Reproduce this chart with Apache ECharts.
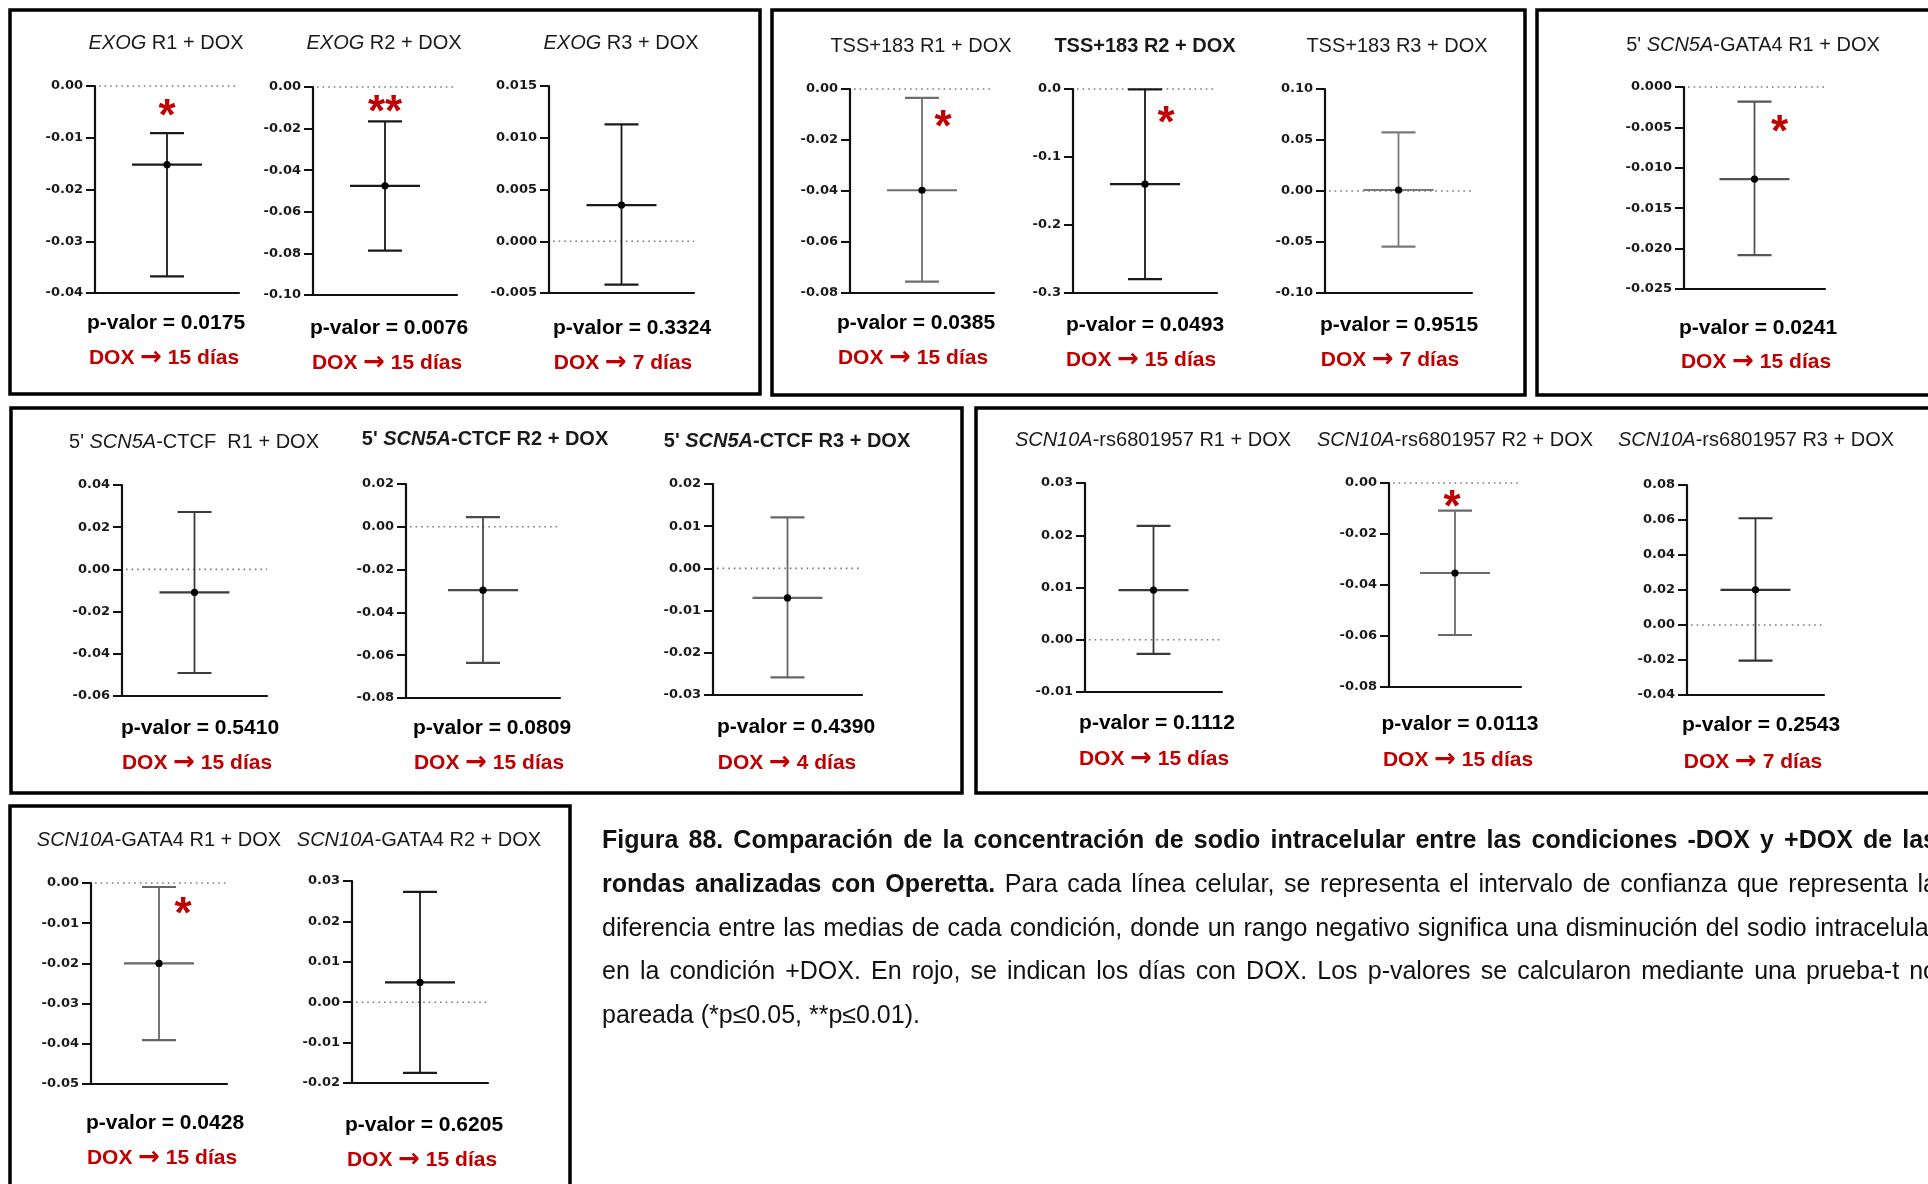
<!DOCTYPE html>
<html>
<head>
<meta charset="utf-8">
<title>Figura 88 – Concentración de sodio intracelular (-DOX vs +DOX)</title>
<script src="https://cdn.jsdelivr.net/npm/echarts@6/dist/echarts.min.js"></script>
<style>
  html, body { margin: 0; padding: 0; background: #fff; overflow: hidden; }
  #wrap { position: relative; width: 1928px; height: 1184px; overflow: hidden; }
  #chart { position: absolute; left: 0; top: 0; width: 1928px; height: 1184px; }
  #caption {
    position: absolute; left: 602px; top: 818px; width: 1335px;
    font-family: "Liberation Sans", Arial, Helvetica, sans-serif;
    font-size: 25px; line-height: 43.75px; color: #111;
  }
  #caption .ln { text-align: justify; text-align-last: justify; }
  #caption .last { text-align: left; }
</style>
</head>
<body>
<div id="wrap">
  <div id="chart"></div>
  <div id="caption">
    <div class="ln"><b>Figura 88. Comparación de la concentración de sodio intracelular entre las condiciones -DOX y +DOX de las</b></div>
    <div class="ln"><b>rondas analizadas con Operetta.</b> Para cada línea celular, se representa el intervalo de confianza que representa la</div>
    <div class="ln">diferencia entre las medias de cada condición, donde un rango negativo significa una disminución del sodio intracelular</div>
    <div class="ln">en la condición +DOX. En rojo, se indican los días con DOX. Los p-valores se calcularon mediante una prueba-t no</div>
    <div class="last">pareada (*p≤0.05, **p≤0.01).</div>
  </div>
</div>
<script>
// ---- Data: difference of means (+DOX minus -DOX) with its confidence interval ----
// Title pieces: [plain prefix, italic gene name, plain suffix]
const titles = [
  ["", "EXOG", " R1 + DOX"],
  ["", "EXOG", " R2 + DOX"],
  ["", "EXOG", " R3 + DOX"],
  ["TSS+183 R1 + DOX", "", ""],
  ["TSS+183 R2 + DOX", "", ""],
  ["TSS+183 R3 + DOX", "", ""],
  ["5' ", "SCN5A", "-GATA4 R1 + DOX"],
  ["5' ", "SCN5A", "-CTCF  R1 + DOX"],
  ["5' ", "SCN5A", "-CTCF R2 + DOX"],
  ["5' ", "SCN5A", "-CTCF R3 + DOX"],
  ["", "SCN10A", "-rs6801957 R1 + DOX"],
  ["", "SCN10A", "-rs6801957 R2 + DOX"],
  ["", "SCN10A", "-rs6801957 R3 + DOX"],
  ["", "SCN10A", "-GATA4 R1 + DOX"],
  ["", "SCN10A", "-GATA4 R2 + DOX"]
];
const category = "+DOX";
const means  = [-0.0152, -0.0475,  0.0035, -0.0397, -0.140,  0.001, -0.0114, -0.0109, -0.0296, -0.0070,  0.0095, -0.0353,  0.0201, -0.0200,  0.0049];
const lowers = [-0.0368, -0.0787, -0.0042, -0.0755, -0.2795, -0.0546, -0.0208, -0.0491, -0.0636, -0.0258, -0.0027, -0.0596, -0.0203, -0.0391, -0.0175];
const uppers = [-0.0091, -0.0165,  0.0113, -0.0035, -0.0005,  0.0575, -0.0018,  0.0272,  0.0045,  0.0121,  0.0218, -0.0108,  0.0610, -0.0010,  0.0273];
const pValues = ["0.0175", "0.0076", "0.3324", "0.0385", "0.0493", "0.9515", "0.0241", "0.5410", "0.0809", "0.4390", "0.1112", "0.0113", "0.2543", "0.0428", "0.6205"];
const significance = ["*", "**", "", "*", "*", "", "*", "", "", "", "", "*", "", "*", ""];
const doxDays = [15, 15, 7, 15, 15, 7, 15, 15, 15, 4, 15, 15, 7, 15, 15];
// Y axis ranges and tick spacing
const yMin      = [-0.04, -0.10, -0.005, -0.08, -0.3, -0.10, -0.025, -0.06, -0.08, -0.03, -0.01, -0.08, -0.04, -0.05, -0.02];
const yMax      = [0, 0, 0.015, 0, 0, 0.10, 0, 0.04, 0.02, 0.02, 0.03, 0, 0.08, 0, 0.03];
const yStep     = [0.01, 0.02, 0.005, 0.02, 0.1, 0.05, 0.005, 0.02, 0.02, 0.01, 0.01, 0.02, 0.02, 0.01, 0.01];
const yDecimals = [2, 2, 3, 2, 1, 2, 3, 2, 2, 2, 2, 2, 2, 2, 2];

// ---- Layout (pixels) ----
const layout = [
  { grid: [95, 86, 144, 207],   title: [166, 43],   p: [166, 323],  dox: [164, 358],  star: [0, -26] },
  { grid: [313, 87, 144, 208],  title: [384, 43],   p: [389, 328],  dox: [387, 363],  star: [0, -18] },
  { grid: [549, 86, 145, 207],  title: [621, 43],   p: [632, 328],  dox: [623, 363] },
  { grid: [850, 89, 144, 204],  title: [921, 46],   p: [916, 323],  dox: [913, 358],  star: [21, 20] },
  { grid: [1073, 89, 144, 204], title: [1145, 46],  p: [1145, 325], dox: [1141, 360], star: [21, 25] },
  { grid: [1325, 89, 147, 204], title: [1397, 46],  p: [1399, 325], dox: [1390, 360] },
  { grid: [1684, 87, 141, 202], title: [1753, 45],  p: [1758, 328], dox: [1756, 362], star: [25, 21] },
  { grid: [122, 485, 145, 211], title: [194, 442],  p: [200, 728],  dox: [197, 763] },
  { grid: [406, 484, 154, 214], title: [485, 439],  p: [492, 728],  dox: [489, 763] },
  { grid: [713, 484, 149, 211], title: [787, 441],  p: [796, 727],  dox: [787, 763] },
  { grid: [1085, 483, 137, 209], title: [1153, 440], p: [1157, 723], dox: [1154, 759] },
  { grid: [1389, 483, 132, 204], title: [1455, 440], p: [1460, 724], dox: [1458, 760], star: [-3, -13] },
  { grid: [1687, 485, 137, 210], title: [1756, 440], p: [1761, 725], dox: [1753, 762] },
  { grid: [91, 883, 136, 201],  title: [159, 840],  p: [165, 1123], dox: [162, 1158], star: [24, 18] },
  { grid: [352, 881, 136, 202], title: [419, 840],  p: [424, 1125], dox: [422, 1160] }
];
// Framed groups of panels: [x1, y1, x2, y2]
const frames = [
  [10, 10, 760, 394],
  [772, 10, 1525, 395],
  [1537, 10, 1950, 395],
  [11, 408, 962, 793],
  [976, 408, 1950, 793],
  [10, 806, 570, 1200]
];
const barColor = ['#1a1a1a', '#1a1a1a', '#1a1a1a', '#6e6e6e', '#1a1a1a', '#7a7a7a', '#555555', '#3c3c3c',
                  '#4a4a4a', '#666666', '#3a3a3a', '#6a6a6a', '#333333', '#666666', '#1a1a1a'];
const boldTitle = [false, false, false, false, true, false, false, false, true, true, false, false, false, false, false];

const FONT = '"Liberation Sans", Arial, Helvetica, sans-serif';
const TICK_FONT = '"DejaVu Sans", Verdana, sans-serif';
const RED = '#c00000';
const CAP_HALF = 17;
const MEAN_HALF = 35;
const STAR_SIZE = 44;

function fmtTick(d) {
  return function (v) {
    const r = Math.abs(v) < 1e-12 ? 0 : v;
    return r.toFixed(d);
  };
}

function makeRender(i) {
  return function (params, api) {
    const cs = params.coordSys;
    const cx = api.value(0);
    const pMean = api.coord([cx, api.value(1)]);
    const x = pMean[0];
    const yMean = pMean[1];
    const yLo = api.coord([cx, api.value(2)])[1];
    const yHi = api.coord([cx, api.value(3)])[1];
    const y0 = api.coord([cx, 0])[1];
    const col = barColor[i];
    const children = [
      // reference line at zero
      { type: 'line', shape: { x1: cs.x + 4, y1: y0, x2: cs.x + cs.width, y2: y0 },
        style: { stroke: '#7a7a7a', lineWidth: 1.6, lineDash: [1.6, 4] } },
      // confidence interval
      { type: 'line', shape: { x1: x, y1: yHi, x2: x, y2: yLo }, style: { stroke: col, lineWidth: 1.8 } },
      { type: 'line', shape: { x1: x - CAP_HALF, y1: yHi, x2: x + CAP_HALF, y2: yHi }, style: { stroke: col, lineWidth: 2.2 } },
      { type: 'line', shape: { x1: x - CAP_HALF, y1: yLo, x2: x + CAP_HALF, y2: yLo }, style: { stroke: col, lineWidth: 2.2 } },
      // mean difference
      { type: 'line', shape: { x1: x - MEAN_HALF, y1: yMean, x2: x + MEAN_HALF, y2: yMean }, style: { stroke: col, lineWidth: 2.2 } },
      { type: 'circle', shape: { cx: x, cy: yMean, r: 3.6 }, style: { fill: '#000' } }
    ];
    const sig = significance[i];
    if (sig) {
      const off = layout[i].star || [0, -20];
      children.push({
        type: 'text',
        x: x + off[0],
        y: yHi + off[1] + STAR_SIZE * 0.25,
        style: {
          text: sig, fill: RED, fontSize: STAR_SIZE, fontWeight: 'bold', fontFamily: FONT,
          align: 'center', verticalAlign: 'middle'
        }
      });
    }
    return { type: 'group', children: children };
  };
}

function titleText(parts) {
  let s = '';
  if (parts[0]) s += '{n|' + parts[0] + '}';
  if (parts[1]) s += '{i|' + parts[1] + '}';
  if (parts[2]) s += '{n|' + parts[2] + '}';
  return s;
}

const grids = [], xAxes = [], yAxes = [], series = [], graphics = [];

layout.forEach(function (l, i) {
  grids.push({ left: l.grid[0], top: l.grid[1], width: l.grid[2], height: l.grid[3], containLabel: false });
  xAxes.push({
    type: 'category', gridIndex: i, data: [category],
    axisLine: { show: true, onZero: false, lineStyle: { color: '#111', width: 2.2 } },
    axisTick: { show: false }, axisLabel: { show: false }, splitLine: { show: false }
  });
  yAxes.push({
    type: 'value', gridIndex: i, min: yMin[i], max: yMax[i], interval: yStep[i],
    axisLine: { show: true, onZero: false, lineStyle: { color: '#111', width: 2.2 } },
    axisTick: { show: true, inside: false, length: 9, lineStyle: { color: '#111', width: 2 } },
    axisLabel: { show: true, margin: 12, formatter: fmtTick(yDecimals[i]),
                 fontFamily: TICK_FONT, fontWeight: 'bold', fontSize: 13, color: '#1a1a1a' },
    splitLine: { show: false }
  });
  series.push({
    type: 'custom', xAxisIndex: i, yAxisIndex: i, silent: true, clip: false,
    data: [[0, means[i], lowers[i], uppers[i]]],
    renderItem: makeRender(i)
  });

  const tw = boldTitle[i] ? 'bold' : 'normal';
  graphics.push({
    type: 'text', x: l.title[0], y: l.title[1], silent: true,
    style: {
      text: titleText(titles[i]), align: 'center', verticalAlign: 'middle',
      fontSize: 20, fontFamily: FONT, fill: '#1a1a1a',
      rich: {
        n: { fontSize: 20, fontFamily: FONT, fontWeight: tw, fill: '#1a1a1a' },
        i: { fontSize: 20, fontFamily: FONT, fontWeight: tw, fontStyle: 'italic', fill: '#1a1a1a' }
      }
    }
  });
  graphics.push({
    type: 'text', x: l.p[0], y: l.p[1], silent: true,
    style: { text: 'p-valor = ' + pValues[i], align: 'center', verticalAlign: 'middle',
             fontSize: 21, fontWeight: 'bold', fontFamily: FONT, fill: '#000' }
  });
  graphics.push({
    type: 'text', x: l.dox[0], y: l.dox[1], silent: true,
    style: {
      text: '{t|DOX }{a|\u2192}{t| ' + doxDays[i] + ' días}', align: 'center', verticalAlign: 'middle',
      fontSize: 21, fontWeight: 'bold', fontFamily: FONT, fill: RED,
      rich: {
        t: { fontSize: 21, fontWeight: 'bold', fontFamily: FONT, fill: RED },
        a: { fontSize: 26, fontWeight: 'bold', fontFamily: '"DejaVu Sans", sans-serif', fill: RED }
      }
    }
  });
});

frames.forEach(function (f) {
  graphics.push({
    type: 'rect', silent: true,
    shape: { x: f[0], y: f[1], width: f[2] - f[0], height: f[3] - f[1] },
    style: { fill: 'none', stroke: '#000', lineWidth: 3.5 }
  });
});

const chart = echarts.init(document.getElementById('chart'), null, { renderer: 'canvas' });
chart.setOption({
  animation: false,
  backgroundColor: '#ffffff',
  grid: grids,
  xAxis: xAxes,
  yAxis: yAxes,
  series: series,
  graphic: graphics
});
</script>
</body>
</html>
